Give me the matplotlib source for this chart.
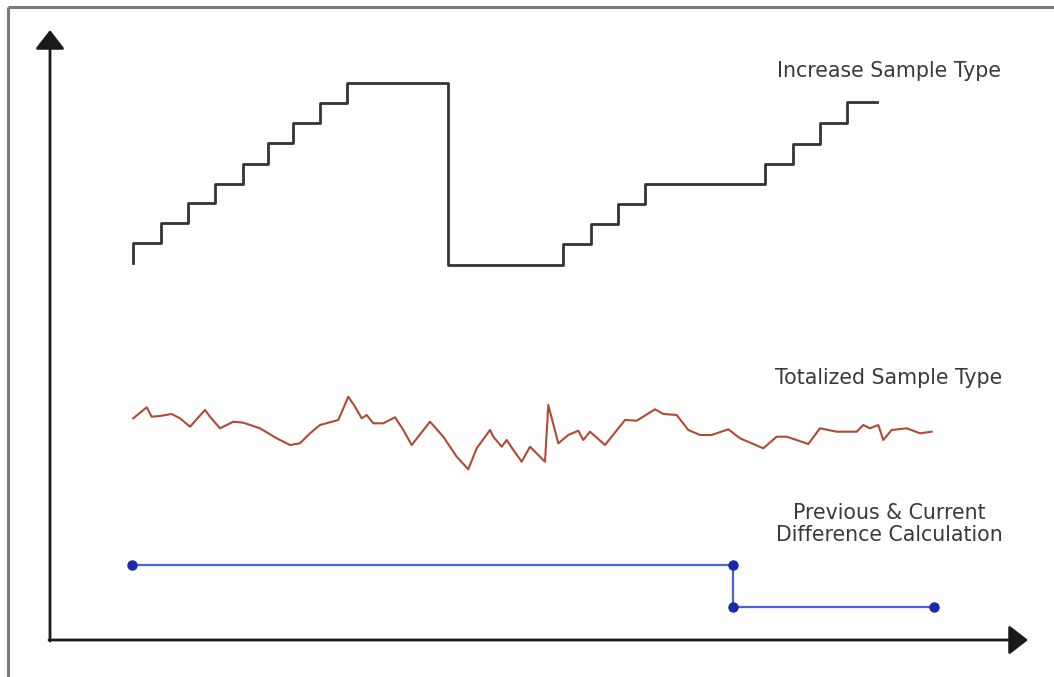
import matplotlib
matplotlib.use("Agg")
import matplotlib.pyplot as plt

# time (t) and value (v), origin at the axes corner
step_t = [8.3, 8.3, 11.1, 13.8, 16.5, 19.3, 21.8, 24.3, 27.0, 29.7, 39.8,
          51.3, 54.1, 56.8, 59.5, 71.5, 74.3, 77.0, 79.7, 82.7]
step_v = [37.7, 39.7, 41.7, 43.7, 45.6, 47.6, 49.7, 51.7, 53.7, 55.7, 37.5,
          39.6, 41.6, 43.6, 45.6, 47.6, 49.6, 51.7, 53.8, 53.8]

total_t = [8.33, 9.67, 10.17, 11.0, 12.17, 13.0, 14.0, 15.5, 16.0, 17.0, 18.33,
           19.33, 21.0, 22.67, 24.0, 25.0, 26.0, 27.0, 28.83, 29.83, 30.5, 31.17,
           31.67, 32.33, 33.33, 34.5, 35.33, 36.17, 38.0, 39.33, 40.67, 41.83,
           42.67, 44.0, 44.33, 45.17, 45.67, 46.33, 47.17, 48.0, 49.5, 49.83,
           50.83, 51.83, 52.83, 53.33, 54.0, 55.5, 57.5, 58.67, 60.5, 61.33,
           62.67, 63.83, 65.0, 66.17, 67.83, 69.0, 71.33, 72.67, 73.67, 75.83,
           77.0, 78.67, 80.67, 81.33, 82.0, 82.83, 83.33, 84.17, 85.67, 87.0, 88.17]
total_v = [22.17, 23.27, 22.33, 22.4, 22.6, 22.17, 21.33, 23.0, 22.33, 21.17, 21.83,
           21.73, 21.17, 20.17, 19.5, 19.67, 20.67, 21.5, 22.0, 24.33, 23.33, 22.17,
           22.5, 21.67, 21.67, 22.27, 21.0, 19.5, 21.83, 20.33, 18.33, 17.07,
           19.17, 21.0, 20.33, 19.33, 20.0, 19.0, 17.83, 19.33, 17.83, 23.5,
           19.67, 20.5, 20.93, 20.0, 20.83, 19.5, 22.0, 21.93, 23.07, 22.6,
           22.5, 21.0, 20.5, 20.5, 21.07, 20.17, 19.17, 20.33, 20.33, 19.6,
           21.17, 20.83, 20.83, 21.5, 21.17, 21.5, 20.0, 21.0, 21.17, 20.67, 20.83]

diff_t = [8.2, 68.3, 68.3, 88.4]
diff_v = [7.5, 7.5, 3.3, 3.3]

labels = ["Increase Sample Type", "Totalized Sample Type",
          "Previous & Current\nDifference Calculation"]
label_v = [56.9, 26.2, 11.6]

fig = plt.figure(figsize=(10.54, 6.77), dpi=100)
ax = fig.add_axes([0, 0, 1, 1])
ax.set_xlim(-5.0, 100.4)
ax.set_ylim(-3.7, 64.0)
ax.axis("off")

# outer frame (top and left only visible)
ax.plot([-4.2, 100.4], [63.3, 63.3], color="#7a7a7a", lw=2.2, solid_capstyle="butt")
ax.plot([-4.2, -4.2], [63.3, -3.7], color="#7a7a7a", lw=2.2, solid_capstyle="butt")

# axes with arrows
arrow = dict(arrowstyle="-|>,head_length=0.58,head_width=0.45", color="#1a1a1a",
             lw=2.0, mutation_scale=20, shrinkA=0, shrinkB=0)
ax.annotate("", xy=(0, 61.0), xytext=(0, -0.1), arrowprops=arrow)
ax.annotate("", xy=(97.8, 0), xytext=(-0.1, 0), arrowprops=arrow)

ax.step(step_t, step_v, where="post", color="#333333", lw=2.0)
ax.plot(total_t, total_v, color="#b04a34", lw=1.5)
ax.plot(diff_t, diff_v, color="#4b62e0", lw=1.6, marker="o", ms=6.5,
        markerfacecolor="#1a2aa8", markeredgecolor="#1a2aa8")

for txt, v in zip(labels, label_v):
    ax.text(83.9, v, txt, ha="center", va="center", fontsize=14.8,
            color="#3a3a3a", linespacing=1.1, family="DejaVu Sans")

fig.savefig("out.png", dpi=100)
